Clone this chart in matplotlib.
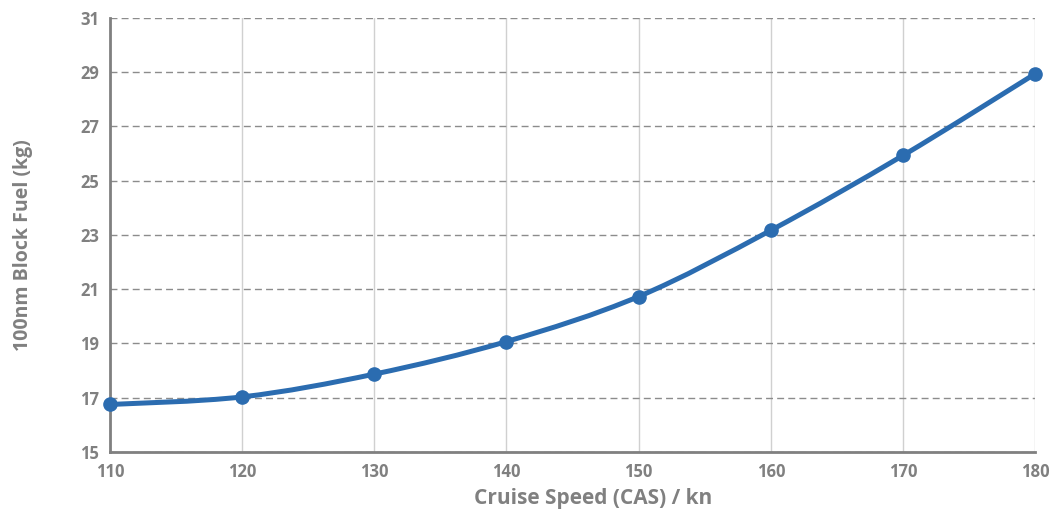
import matplotlib

matplotlib.use("Agg")
import matplotlib.pyplot as plt
from matplotlib.path import Path
from matplotlib.patches import PathPatch

speed = [110, 120, 130, 140, 150, 160, 170, 180]
block_fuel = [16.75, 17.03, 17.87, 19.07, 20.73, 23.17, 25.93, 28.94]
y_ticks = [15, 17, 19, 21, 23, 25, 27, 29, 31]

LINE = "#2b6cb0"
TEXT = "#808080"

plt.rcParams["font.family"] = ["Open Sans", "DejaVu Sans"]


def smooth_path(xs, ys, tension=1 / 6):
    # Catmull-Rom through the data points, as cubic bezier segments
    verts = [(xs[0], ys[0])]
    codes = [Path.MOVETO]
    n = len(xs)
    for i in range(n - 1):
        x0, y0 = xs[max(i - 1, 0)], ys[max(i - 1, 0)]
        x1, y1 = xs[i], ys[i]
        x2, y2 = xs[i + 1], ys[i + 1]
        x3, y3 = xs[min(i + 2, n - 1)], ys[min(i + 2, n - 1)]
        c1 = (x1 + (x2 - x0) * tension, y1 + (y2 - y0) * tension)
        c2 = (x2 - (x3 - x1) * tension, y2 - (y3 - y1) * tension)
        verts += [c1, c2, (x2, y2)]
        codes += [Path.CURVE4] * 3
    return Path(verts, codes)


fig = plt.figure(figsize=(10.5, 5.13), dpi=100)
ax = fig.add_axes([0.1048, 0.119, 0.881, 0.846])

ax.add_patch(PathPatch(smooth_path(speed, block_fuel), facecolor="none",
                       edgecolor=LINE, lw=3.6, capstyle="round", zorder=3))
ax.plot(speed, block_fuel, "o", color=LINE, markersize=9.5, zorder=4, clip_on=False)

ax.set_xlim(110, 180)
ax.set_ylim(15, 31)
ax.set_xticks(speed)
ax.set_yticks(y_ticks)

ax.grid(axis="x", color="#d0d0d0", lw=1.0, ls="-")
ax.grid(axis="y", color="#8c8c8c", lw=1.0, ls=(0, (5, 3)))
ax.set_axisbelow(True)

for side in ("top", "right"):
    ax.spines[side].set_visible(False)
for side in ("left", "bottom"):
    ax.spines[side].set_color("#808080")
    ax.spines[side].set_linewidth(2)

ax.tick_params(length=0, labelsize=12, colors=TEXT, pad=8)
for lab in ax.get_xticklabels() + ax.get_yticklabels():
    lab.set_fontweight("bold")

ax.set_xlabel("Cruise Speed (CAS) / kn", fontsize=15, fontweight="bold", color=TEXT)
ax.set_ylabel("100nm Block Fuel (kg)", fontsize=14, fontweight="bold", color=TEXT)
ax.xaxis.set_label_coords(0.522, -0.083)
ax.yaxis.set_label_coords(-0.083, 0.477)

fig.savefig("out.png", dpi=100)
